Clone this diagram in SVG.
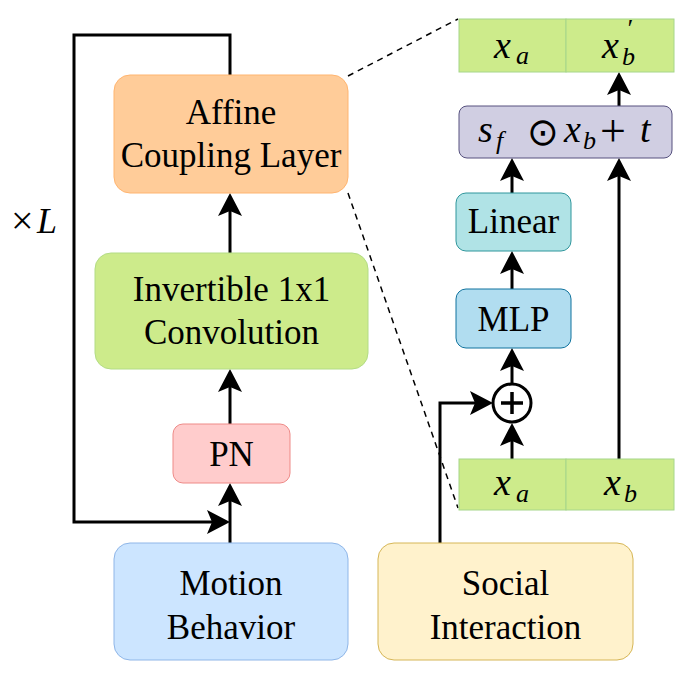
<svg xmlns="http://www.w3.org/2000/svg" width="693" height="683" viewBox="0 0 693 683">
<style>
.lbl{font-family:"Liberation Serif","Times New Roman",serif;font-size:35px;fill:#000;text-anchor:middle}
.m{font-family:"Liberation Serif","Times New Roman",serif;font-style:italic;fill:#000;font-size:38px}
.ms{font-size:26px}
.up{font-style:normal}
.sym{font-family:"DejaVu Sans",sans-serif;font-style:normal}
.edge{fill:none;stroke:#000;stroke-width:3;marker-end:url(#ah)}
.dash{fill:none;stroke:#000;stroke-width:1.5;stroke-dasharray:6 5}
</style>
<defs>
<marker id="ah" markerUnits="userSpaceOnUse" markerWidth="24" markerHeight="24" viewBox="0 0 23 24" refX="15" refY="12" orient="auto">
<path d="M23,12 L0,0 L5,12 L0,24 Z" fill="#000"/>
</marker>
</defs>

<g id="connectors">
<path class="edge" d="M230,543 V491"/>
<path class="edge" d="M230,424 V377"/>
<path class="edge" d="M230,253 V201"/>
<path class="edge" d="M230,75 V35 H74 V522 H222"/>
<path class="edge" d="M512,459 V431"/>
<path class="edge" d="M512,384 V356"/>
<path class="edge" d="M512,289 V259"/>
<path class="edge" d="M512,193 V166"/>
<path class="edge" d="M619,459 V166"/>
<path class="edge" d="M619,106 V80"/>
<path class="edge" d="M440,543 V403 H485"/>
<path class="dash" d="M348,76 L458,19"/>
<path class="dash" d="M348,193 L458,508"/>
</g>

<g id="affine">
<rect x="114" y="75" width="234" height="118" rx="16" fill="#ffcc99" stroke="#ffb570" stroke-width="1"/>
<text class="lbl" x="231" y="124">Affine</text>
<text class="lbl" x="231" y="167">Coupling Layer</text>
</g>

<g id="invertible">
<rect x="95" y="253" width="273" height="116" rx="16" fill="#cdeb8b" stroke="#b3dc85" stroke-width="1"/>
<text class="lbl" x="231.5" y="301">Invertible 1x1</text>
<text class="lbl" x="231.5" y="344">Convolution</text>
</g>

<g id="pn">
<rect x="173" y="424" width="117" height="59" rx="10" fill="#ffcccc" stroke="#ee8a87" stroke-width="1"/>
<text class="lbl" x="231.5" y="466">PN</text>
</g>

<g id="motion">
<rect x="114" y="543" width="234" height="117" rx="16" fill="#cce5ff" stroke="#8fb6e8" stroke-width="1"/>
<text class="lbl" x="231" y="595">Motion</text>
<text class="lbl" x="231" y="639">Behavior</text>
</g>

<g id="social">
<rect x="378" y="543" width="255" height="117" rx="16" fill="#fff2cc" stroke="#d6b656" stroke-width="1"/>
<text class="lbl" x="505.5" y="595">Social</text>
<text class="lbl" x="505.5" y="639">Interaction</text>
</g>

<g id="linear">
<rect x="456" y="193" width="115" height="58" rx="10" fill="#b0e3e6" stroke="#2f969c" stroke-width="1"/>
<text class="lbl" x="513.5" y="233">Linear</text>
</g>

<g id="mlp">
<rect x="456" y="289" width="115" height="59" rx="10" fill="#b1ddf0" stroke="#10739e" stroke-width="1"/>
<text class="lbl" x="513.5" y="331">MLP</text>
</g>

<g id="plus">
<circle cx="512" cy="403" r="19" fill="#fff" stroke="#000" stroke-width="3"/>
<path d="M501,403 H523 M512,392 V414" stroke="#000" stroke-width="3.5"/>
</g>

<g id="affine-op">
<rect x="459" y="106" width="213" height="52" rx="8" fill="#d0cee2" stroke="#56517e" stroke-width="1"/>
<text class="m"><tspan x="478" y="142">s</tspan><tspan class="ms" x="496" y="149">f</tspan><tspan class="sym" x="527" y="145" style="font-size:38px">⊙</tspan><tspan x="564" y="142">x</tspan><tspan class="ms" x="583" y="149">b</tspan><tspan class="up" x="600" y="146" style="font-size:46px">+</tspan><tspan x="640" y="142">t</tspan></text>
</g>

<g id="top-xa">
<rect x="459" y="19" width="107" height="53" fill="#cdeb8b" stroke="#a6d68a" stroke-width="1"/>
<text class="m"><tspan x="494" y="58">x</tspan><tspan class="ms" x="516" y="64">a</tspan></text>
</g>
<g id="top-xb">
<rect x="566" y="19" width="108" height="53" fill="#cdeb8b" stroke="#a6d68a" stroke-width="1"/>
<text class="m"><tspan x="602" y="58">x</tspan><tspan class="ms" x="626" y="37">′</tspan><tspan class="ms" x="622" y="65">b</tspan></text>
</g>

<g id="bot-xa">
<rect x="459" y="459" width="107" height="51" fill="#cdeb8b" stroke="#a6d68a" stroke-width="1"/>
<text class="m"><tspan x="494" y="495">x</tspan><tspan class="ms" x="516" y="502">a</tspan></text>
</g>
<g id="bot-xb">
<rect x="566" y="459" width="108" height="51" fill="#cdeb8b" stroke="#a6d68a" stroke-width="1"/>
<text class="m"><tspan x="604" y="495">x</tspan><tspan class="ms" x="624" y="502">b</tspan></text>
</g>

<g id="times-L">
<text class="m" style="font-size:36px"><tspan class="up" x="11" y="234" style="font-size:40px">×</tspan><tspan x="37" y="233">L</tspan></text>
</g>
</svg>
